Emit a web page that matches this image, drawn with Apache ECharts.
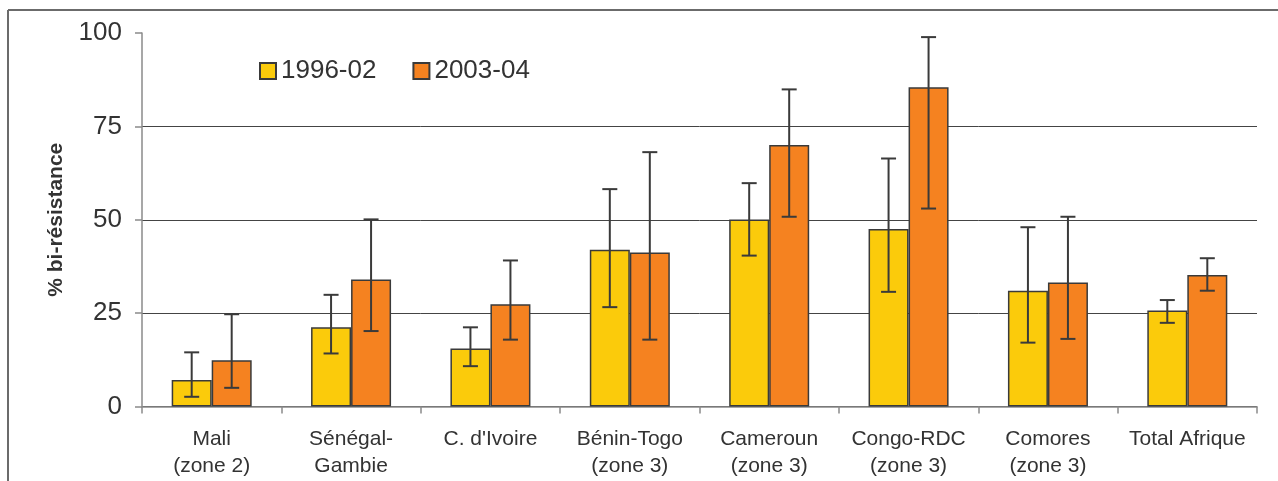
<!DOCTYPE html>
<html>
<head>
<meta charset="utf-8">
<script src="https://cdn.jsdelivr.net/npm/echarts@6/dist/echarts.min.js"></script>
<style>
html,body{margin:0;padding:0;background:#fff;}
#chart{width:1278px;height:481px;}
</style>
</head>
<body>
<div id="chart"></div>
<script>
const categories = ['Mali\n(zone 2)', 'Sénégal-\nGambie', "C. d'Ivoire", 'Bénin-Togo\n(zone 3)', 'Cameroun\n(zone 3)', 'Congo-RDC\n(zone 3)', 'Comores\n(zone 3)', 'Total Afrique'];
const seriesNames = ['1996-02', '2003-04'];
const values9602 = [7.1, 21.2, 15.5, 42.0, 50.1, 47.5, 31.0, 25.7];
const low9602 = [2.6, 14.2, 10.8, 26.6, 40.4, 30.7, 17.1, 22.4];
const high9602 = [14.5, 29.9, 21.2, 58.2, 59.8, 66.4, 48.0, 28.5];
const values0304 = [12.4, 34.0, 27.4, 41.2, 70.0, 85.5, 33.2, 35.2];
const low0304 = [5.0, 20.2, 17.9, 17.9, 50.8, 53.0, 18.1, 31.0];
const high0304 = [24.7, 50.1, 39.1, 68.1, 84.9, 98.9, 50.8, 39.7];
const yTicks = [0, 25, 50, 75, 100];

const FONT = '"Liberation Sans", Arial, sans-serif';
const CAT_GAP = 0.426;

function errorSeries(low, high, side) {
  return {
    type: 'custom',
    silent: true,
    z: 5,
    data: low.map((l, i) => [i, l, high[i]]),
    encode: { x: 0, y: [1, 2] },
    renderItem: function (params, api) {
      const idx = api.value(0);
      const band = api.size([1, 0])[0];
      const off = side * band * (1 - CAT_GAP) / 4;
      const pLow = api.coord([idx, api.value(1)]);
      const pHigh = api.coord([idx, api.value(2)]);
      const x = pLow[0] + off;
      const cap = 7.5;
      const style = { stroke: '#3a3a3a', lineWidth: 2 };
      return {
        type: 'group',
        children: [
          { type: 'line', shape: { x1: x, y1: pLow[1], x2: x, y2: pHigh[1] }, style: style },
          { type: 'line', shape: { x1: x - cap, y1: pLow[1], x2: x + cap, y2: pLow[1] }, style: style },
          { type: 'line', shape: { x1: x - cap, y1: pHigh[1], x2: x + cap, y2: pHigh[1] }, style: style }
        ]
      };
    }
  };
}

const chart = echarts.init(document.getElementById('chart'), null, { renderer: 'canvas' });
chart.setOption({
  animation: false,
  backgroundColor: '#fff',
  textStyle: { fontFamily: FONT },
  graphic: [
    { type: 'line', shape: { x1: 8, y1: 10, x2: 1278, y2: 10 }, style: { stroke: '#6b6b6b', lineWidth: 2 } },
    { type: 'line', shape: { x1: 8, y1: 10, x2: 8, y2: 481 }, style: { stroke: '#6b6b6b', lineWidth: 2 } }
  ],
  legend: {
    data: seriesNames,
    left: 259,
    top: 58,
    padding: 0,
    itemWidth: 16,
    itemHeight: 16,
    itemGap: 36,
    icon: 'rect',
    textStyle: { fontSize: 26, color: '#333', fontFamily: FONT },
    selectedMode: false
  },
  grid: { left: 142, right: 21, top: 33, bottom: 74.5, containLabel: false },
  xAxis: {
    type: 'category',
    data: categories,
    axisLine: { lineStyle: { color: '#8a8a8a', width: 1.5 } },
    axisTick: { show: true, length: 7, alignWithLabel: false, lineStyle: { color: '#8a8a8a', width: 1.5 } },
    axisLabel: { fontSize: 21, color: '#333', margin: 19, lineHeight: 27, fontFamily: FONT, interval: 0 },
    splitLine: { show: false }
  },
  yAxis: {
    type: 'value',
    min: yTicks[0],
    max: yTicks[yTicks.length - 1],
    interval: 25,
    name: '% bi-résistance',
    nameLocation: 'middle',
    nameGap: 75,
    nameRotate: 90,
    nameTextStyle: { fontSize: 21, fontWeight: 'bold', color: '#333', fontFamily: FONT },
    axisLine: { show: true, lineStyle: { color: '#8a8a8a', width: 1.5 } },
    axisTick: { show: true, length: 7, lineStyle: { color: '#8a8a8a', width: 1.5 } },
    axisLabel: { fontSize: 26, color: '#333', margin: 20, fontFamily: FONT },
    splitLine: { show: true, lineStyle: { color: ['#444', '#444', '#444', '#444', 'rgba(0,0,0,0)'], width: 1 } }
  },
  series: [
    {
      name: seriesNames[0],
      type: 'bar',
      data: values9602,
      barGap: '0%',
      barCategoryGap: (CAT_GAP * 100) + '%',
      itemStyle: { color: '#FBCB0B', borderColor: '#3a3a3a', borderWidth: 1.5 }
    },
    {
      name: seriesNames[1],
      type: 'bar',
      data: values0304,
      barGap: '0%',
      barCategoryGap: (CAT_GAP * 100) + '%',
      itemStyle: { color: '#F58220', borderColor: '#3a3a3a', borderWidth: 1.5 }
    },
    errorSeries(low9602, high9602, -1),
    errorSeries(low0304, high0304, 1)
  ]
});
</script>
</body>
</html>
